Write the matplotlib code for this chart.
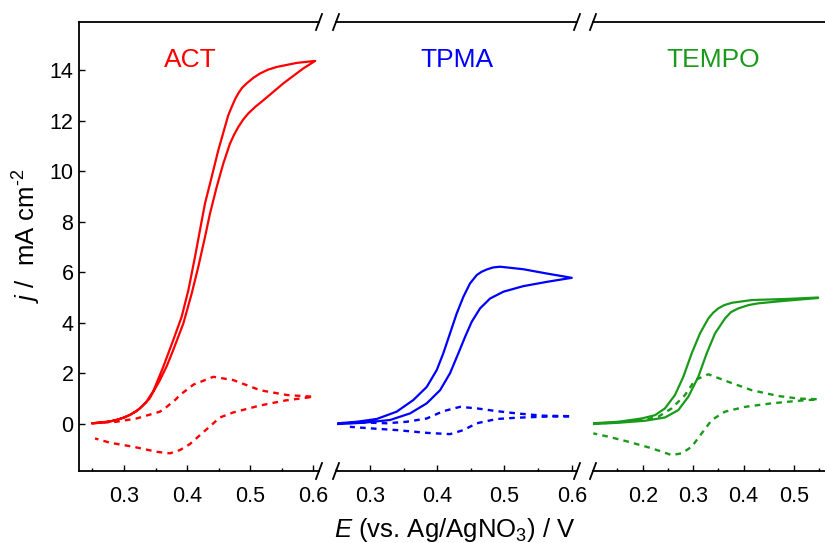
import numpy as np
import matplotlib
matplotlib.use("Agg")
from matplotlib import pyplot as plt
from matplotlib.lines import Line2D
from matplotlib.ticker import MultipleLocator, FixedLocator

plt.rcParams['font.family'] = ['Liberation Sans', 'DejaVu Sans']
plt.rcParams['mathtext.fontset'] = 'custom'
plt.rcParams['mathtext.rm'] = 'Liberation Sans'
plt.rcParams['mathtext.it'] = 'Liberation Sans:italic'

# ---- ACT (red) ----
act_fwd_E = [0.25, 0.27, 0.29, 0.31, 0.325, 0.34, 0.357, 0.368, 0.378, 0.394, 0.4073, 0.4178,
             0.4284, 0.4363, 0.4469, 0.4574, 0.468, 0.4745, 0.4813, 0.489, 0.497, 0.508, 0.5208,
             0.5525, 0.584, 0.603]
act_fwd_j = [0.02, 0.06, 0.16, 0.35, 0.6, 0.98, 1.73, 2.3, 2.92, 3.97, 5.16, 6.22,
             7.40, 8.33, 9.38, 10.31, 11.1, 11.45, 11.76, 12.05, 12.29, 12.55, 12.81,
             13.48, 14.07, 14.37]
act_rev_E = [0.603, 0.5737, 0.542, 0.528, 0.5155, 0.505, 0.4944, 0.487, 0.481, 0.476, 0.4707,
             0.465, 0.460, 0.4495, 0.439, 0.4284, 0.4204, 0.4125, 0.402, 0.3914, 0.378, 0.3623,
             0.3465, 0.335, 0.32, 0.30, 0.28, 0.25]
act_rev_j = [14.37, 14.29, 14.13, 14.02, 13.87, 13.7, 13.48, 13.3, 13.08, 12.85, 12.55,
             12.2, 11.76, 10.84, 9.78, 8.73, 7.67, 6.61, 5.29, 4.24, 3.31, 2.26,
             1.3, 0.85, 0.5, 0.24, 0.1, 0.02]
act_d_fwd_E = [0.25, 0.288, 0.32, 0.357, 0.3676, 0.381, 0.3887, 0.41, 0.4415, 0.4732, 0.5155, 0.5578, 0.6]
act_d_fwd_j = [0.02, 0.08, 0.21, 0.48, 0.67, 0.94, 1.14, 1.55, 1.86, 1.73, 1.33, 1.14, 1.07]
act_d_rev_E = [0.6, 0.555, 0.515, 0.4733, 0.452, 0.4363, 0.4204, 0.4046, 0.3887, 0.373, 0.3518,
               0.3148, 0.2778, 0.254]
act_d_rev_j = [1.07, 0.92, 0.72, 0.45, 0.25, -0.1, -0.45, -0.8, -1.04, -1.17, -1.11,
               -0.91, -0.75, -0.58]

# ---- TPMA (blue) ----
tpma_fwd_E = [0.2528, 0.29, 0.3298, 0.3595, 0.3844, 0.4042, 0.419, 0.4314, 0.4414, 0.4513,
              0.4637, 0.4786, 0.4984, 0.528, 0.563, 0.6001]
tpma_fwd_j = [-0.01, 0.04, 0.15, 0.41, 0.81, 1.33, 2.0, 2.79, 3.44, 4.04,
              4.57, 4.96, 5.23, 5.45, 5.62, 5.78]
tpma_rev_E = [0.6001, 0.563, 0.528, 0.4935, 0.483, 0.4737, 0.466, 0.4588, 0.4488, 0.4389, 0.429,
              0.419, 0.409, 0.3993, 0.3844, 0.3644, 0.3397, 0.31, 0.28, 0.2528]
tpma_rev_j = [5.78, 5.95, 6.12, 6.22, 6.19, 6.11, 6.02, 5.89, 5.56, 5.03, 4.37,
              3.58, 2.79, 2.13, 1.46, 0.94, 0.48, 0.19, 0.08, 0.02]
tpma_d_fwd_E = [0.2528, 0.29, 0.3248, 0.3546, 0.3844, 0.4091, 0.4339, 0.4588, 0.4886, 0.5184, 0.558, 0.6]
tpma_d_fwd_j = [0.02, 0.05, 0.02, 0.08, 0.21, 0.50, 0.67, 0.61, 0.50, 0.41, 0.32, 0.30]
tpma_d_rev_E = [0.6, 0.558, 0.5184, 0.4886, 0.4588, 0.4389, 0.419, 0.3844, 0.3397, 0.3, 0.27]
tpma_d_rev_j = [0.30, 0.28, 0.24, 0.19, 0.02, -0.25, -0.41, -0.36, -0.25, -0.18, -0.12]

# ---- TEMPO (green) ----
tempo_fwd_E = [0.102, 0.1516, 0.2046, 0.2442, 0.2706, 0.2905, 0.3103, 0.327, 0.3435, 0.3633,
               0.375, 0.3897, 0.41, 0.4294, 0.4823, 0.548]
tempo_fwd_j = [-0.01, 0.04, 0.12, 0.25, 0.54, 1.07, 1.86, 2.79, 3.58, 4.17,
               4.42, 4.57, 4.7, 4.77, 4.87, 4.98]
tempo_rev_E = [0.548, 0.4823, 0.4163, 0.3766, 0.362, 0.35, 0.34, 0.3302, 0.3137, 0.2972, 0.2806,
               0.264, 0.2442, 0.2244, 0.198, 0.1516, 0.102]
tempo_rev_j = [5.0, 4.94, 4.9, 4.79, 4.7, 4.57, 4.4, 4.17, 3.58, 2.79, 1.86,
               1.14, 0.61, 0.34, 0.21, 0.08, 0.02]
tempo_d_fwd_E = [0.102, 0.15, 0.2, 0.231, 0.2575, 0.284, 0.3038, 0.3302, 0.37, 0.4163, 0.469, 0.5088, 0.548]
tempo_d_fwd_j = [0.0, 0.06, 0.15, 0.28, 0.61, 1.14, 1.73, 1.96, 1.66, 1.33, 1.1, 1.0, 0.97]
tempo_d_rev_E = [0.548, 0.5088, 0.456, 0.403, 0.3633, 0.337, 0.317, 0.2972, 0.2774, 0.2575,
                 0.2179, 0.1714, 0.1317, 0.102]
tempo_d_rev_j = [0.97, 0.91, 0.81, 0.67, 0.48, 0.15, -0.38, -0.91, -1.17, -1.24,
                 -0.97, -0.71, -0.51, -0.38]

names = ["ACT", "TPMA", "TEMPO"]
colors = ["#ff0000", "#0000ff", "#1a9a1a"]
xlims = [(0.2287, 0.609), (0.2494, 0.6079), (0.1014, 0.57)]
majors = [[0.3, 0.4, 0.5, 0.6], [0.3, 0.4, 0.5, 0.6], [0.2, 0.3, 0.4, 0.5]]

W, H = 825, 543
fig = plt.figure(figsize=(W / 100, H / 100), dpi=100)
bottom, top = (H - 471) / H, (H - 22) / H
edges = [(79, 319), (336, 577), (593, 829.2)]
axes = [fig.add_axes([l / W, bottom, (r - l) / W, top - bottom]) for l, r in edges]

data = [
    (act_fwd_E, act_fwd_j, act_rev_E, act_rev_j, act_d_fwd_E, act_d_fwd_j, act_d_rev_E, act_d_rev_j),
    (tpma_fwd_E, tpma_fwd_j, tpma_rev_E, tpma_rev_j, tpma_d_fwd_E, tpma_d_fwd_j, tpma_d_rev_E, tpma_d_rev_j),
    (tempo_fwd_E, tempo_fwd_j, tempo_rev_E, tempo_rev_j, tempo_d_fwd_E, tempo_d_fwd_j, tempo_d_rev_E, tempo_d_rev_j),
]

for i, ax in enumerate(axes):
    fE, fj, rE, rj, dfE, dfj, drE, drj = data[i]
    c = colors[i]
    ax.plot(fE + rE, fj + rj, color=c, lw=1.6, solid_joinstyle='round')
    ax.plot(dfE + drE, dfj + drj, color=c, lw=1.7, linestyle=(0, (2.4, 2.2)))
    ax.set_xlim(*xlims[i])
    ax.set_ylim(-1.87, 15.91)
    ax.xaxis.set_major_locator(FixedLocator(majors[i]))
    ax.xaxis.set_minor_locator(MultipleLocator(0.05))
    ax.set_xticklabels([f"{v:.1f}" for v in majors[i]])
    ax.tick_params(axis='x', which='major', direction='in', length=4, width=1, pad=10.5,
                   labelsize=15.5, top=False)
    ax.tick_params(axis='x', which='minor', direction='in', length=2.2, width=1, top=False)
    ax.spines['right'].set_visible(False)
    for s in ax.spines.values():
        s.set_linewidth(1.3)
    if i == 0:
        ax.yaxis.set_major_locator(MultipleLocator(2))
        ax.tick_params(axis='y', direction='in', length=4, width=1, pad=4, labelsize=15.5)
    else:
        ax.spines['left'].set_visible(False)
        ax.tick_params(axis='y', left=False, labelleft=False)

# panel names
for name, c, xc in zip(names, colors, [190.8, 457, 713.3]):
    fig.text(xc / W, 1 - 66.7 / H, name, color=c, fontsize=19, ha='center', va='baseline')

# axis labels
fig.text(455 / W, 6.5 / H, r"$E$ (vs. Ag/AgNO$_3$) / V", fontsize=18.5, ha='center', va='baseline')
fig.text(27 / W, 1 - 236 / H, r"$j$ /  mA cm$^{\text{-}2}$", fontsize=18.5, rotation=90,
         ha='center', va='center')

# break marks
dx, dy = 3 / W, 8 / H
for xp in [319, 336, 577, 593]:
    for yp in [bottom, top]:
        fig.add_artist(Line2D([xp / W - dx, xp / W + dx], [yp - dy, yp + dy],
                              color='black', lw=1.3, transform=fig.transFigure))

fig.savefig("out.png", dpi=100)
